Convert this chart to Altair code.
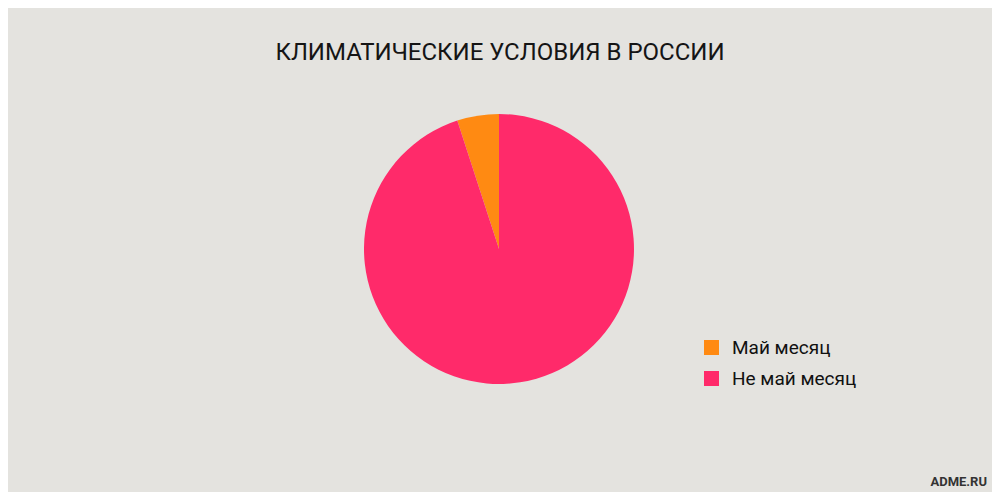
import altair as alt
import pandas as pd

categories = ["Май месяц", "Не май месяц"]
values = [5, 95]
draw_order = [1, 0]
colors = ["#FF8A12", "#FF2A6A"]

title_text = "КЛИМАТИЧЕСКИЕ УСЛОВИЯ В РОССИИ"
credit_text = "ADME.RU"

df = pd.DataFrame({"cat": categories, "val": values, "ord": draw_order})

pie = alt.Chart(df).mark_arc(radius=135, stroke=None).encode(
    theta=alt.Theta("val:Q", stack=True),
    order=alt.Order("ord:Q"),
    color=alt.Color(
        "cat:N",
        scale=alt.Scale(domain=categories, range=colors),
        sort=categories,
        legend=alt.Legend(
            title=None,
            orient="none",
            legendX=694,
            legendY=330,
            symbolType="square",
            symbolSize=225,
            symbolStrokeWidth=0,
            labelFont="Roboto",
            labelFontSize=19,
            labelColor="#111111",
            labelOffset=11,
            rowPadding=11,
        ),
    ),
    x=alt.value(491),
    y=alt.value(241),
)

title = alt.Chart(pd.DataFrame({"t": [title_text]})).mark_text(
    font="Roboto", fontSize=24, color="#151515", align="center", baseline="alphabetic"
).encode(text="t:N", x=alt.value(492), y=alt.value(52))

credit = alt.Chart(pd.DataFrame({"t": [credit_text]})).mark_text(
    font="Roboto", fontSize=13, fontWeight="bold", color="#333333", align="right", baseline="alphabetic"
).encode(text="t:N", x=alt.value(979), y=alt.value(478))

chart = alt.layer(pie, title, credit).properties(
    width=984, height=484,
    autosize=alt.AutoSizeParams(type="none"),
    padding=0,
    background="#E4E3DF",
).configure_view(stroke=None)

chart.save("out.html", embed_options={"renderer": "svg", "actions": False})
